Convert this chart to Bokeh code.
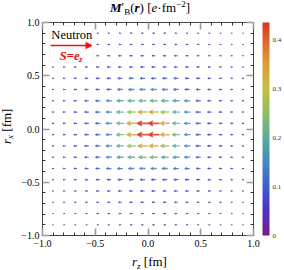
import numpy as np
from bokeh.plotting import figure
from bokeh.layouts import column, row
from bokeh.models import (Range1d, LinearAxis, FixedTicker, CustomJSTickFormatter, Div,
                          ColorBar, LinearColorMapper, Label, BoxAnnotation, Arrow, NormalHead)
from bokeh.embed import file_html
from bokeh.resources import INLINE

# ---------------- data ----------------
# positive grid positions (fm); the full grid is mirrored about 0
grid_pos = [0.053, 0.159, 0.265, 0.371, 0.476, 0.582, 0.688, 0.794, 0.900]
# |M'_B| in e/fm^2 for one quadrant: rows = |r_x|, columns = |r_z| (same order as grid_pos)
mag_quadrant = [
    [0.430, 0.330, 0.220, 0.150, 0.100, 0.070, 0.045, 0.030, 0.020],
    [0.330, 0.265, 0.200, 0.140, 0.100, 0.065, 0.045, 0.030, 0.020],
    [0.220, 0.200, 0.170, 0.130, 0.095, 0.065, 0.045, 0.030, 0.020],
    [0.140, 0.130, 0.115, 0.095, 0.075, 0.055, 0.040, 0.028, 0.018],
    [0.095, 0.090, 0.082, 0.070, 0.058, 0.045, 0.034, 0.025, 0.017],
    [0.065, 0.062, 0.057, 0.050, 0.042, 0.034, 0.026, 0.019, 0.013],
    [0.045, 0.043, 0.040, 0.035, 0.030, 0.025, 0.020, 0.015, 0.011],
    [0.030, 0.029, 0.027, 0.025, 0.022, 0.018, 0.015, 0.012, 0.009],
    [0.020, 0.020, 0.019, 0.017, 0.015, 0.013, 0.011, 0.009, 0.007],
]
direction_z = -1.0          # every arrow points along -r_z
cbar_low, cbar_high = 0.0, 0.435
cbar_ticks = [0.0, 0.1, 0.2, 0.3, 0.4]
major_ticks = [-1.0, -0.5, 0.0, 0.5, 1.0]
minor_ticks = [-0.9, -0.8, -0.7, -0.6, -0.4, -0.3, -0.2, -0.1,
               0.1, 0.2, 0.3, 0.4, 0.6, 0.7, 0.8, 0.9]

# ---------------- palette (Rainbow-like) ----------------
ctrl = [(0.00, (0.47, 0.11, 0.53)), (0.12, (0.30, 0.20, 0.78)), (0.23, (0.24, 0.37, 0.82)),
        (0.35, (0.27, 0.55, 0.76)), (0.46, (0.36, 0.67, 0.60)), (0.58, (0.56, 0.75, 0.38)),
        (0.69, (0.77, 0.75, 0.26)), (0.80, (0.88, 0.62, 0.20)), (0.90, (0.89, 0.43, 0.17)),
        (1.00, (0.86, 0.20, 0.15))]
def rainbow(t):
    t = min(max(t, 0.0), 1.0)
    for (t0, c0), (t1, c1) in zip(ctrl[:-1], ctrl[1:]):
        if t <= t1:
            f = (t - t0) / (t1 - t0)
            c = [a + (b - a) * f for a, b in zip(c0, c1)]
            return "#%02x%02x%02x" % tuple(int(round(255 * v)) for v in c)
    return "#%02x%02x%02x" % tuple(int(round(255 * v)) for v in ctrl[-1][1])
palette = [rainbow(i / 255) for i in range(256)]

# ---------------- layout (page pixels) ----------------
TITLE_H, XLAB_H, YLAB_W = 14, 17, 18
PW, PH = 284 - YLAB_W, 270 - TITLE_H - XLAB_H      # figure canvas 266 x 239
FL, FR, FT, FB = 23, 239, 8, 221                   # frame inside the canvas
PXX = (FR - FL) / 2.0
PXY = (FB - FT) / 2.0

FONT = "Liberation Serif"

p = figure(width=PW, height=PH, output_backend="svg", toolbar_location=None,
           x_range=Range1d(-1, 1), y_range=Range1d(-1, 1),
           x_axis_location=None, y_axis_location=None, margin=(0, 0, 0, 0),
           min_border_left=FL, min_border_right=PW - FR, min_border_top=FT, min_border_bottom=PH - FB)
p.xgrid.grid_line_color = None
p.ygrid.grid_line_color = None
p.outline_line_color = "#444444"
p.outline_line_width = 1
p.background_fill_color = "white"
p.border_fill_color = "white"

ticker = FixedTicker(ticks=major_ticks, minor_ticks=minor_ticks)
fmt = CustomJSTickFormatter(code="return (tick < 0 ? '\u2212' : '') + Math.abs(tick).toFixed(1);")
blank = CustomJSTickFormatter(code="return '';")
spacer = CustomJSTickFormatter(code="return '\\u00a0';")

def style_axis(ax, formatter, font_size="10px", standoff=4):
    ax.ticker = ticker
    ax.formatter = formatter
    ax.axis_line_color = None
    ax.major_tick_in = 7
    ax.major_tick_out = 0
    ax.major_tick_line_color = "#999999"
    ax.major_tick_line_width = 1.6
    ax.minor_tick_in = 3
    ax.minor_tick_out = 0
    ax.minor_tick_line_color = "#333333"
    ax.minor_tick_line_width = 1
    ax.major_label_text_font = FONT
    ax.major_label_text_font_size = font_size
    ax.major_label_text_color = "black"
    ax.major_label_standoff = standoff

ax_b = LinearAxis(); style_axis(ax_b, fmt, "10px", 4); p.add_layout(ax_b, "below")
ax_l = LinearAxis(); style_axis(ax_l, fmt, "10px", 3); p.add_layout(ax_l, "left")
ax_t = LinearAxis(); style_axis(ax_t, blank, "1px", 0); p.add_layout(ax_t, "above")
ax_r = LinearAxis(); style_axis(ax_r, spacer, "1px", 6); p.add_layout(ax_r, "right")

# ---------------- vector field ----------------
coords = [-g for g in reversed(grid_pos)] + list(grid_pos)
def qi(v):
    return grid_pos.index(round(abs(v), 3))

Lmax = 0.112
x0s, x1s, ys, cols, lws = [], [], [], [], []
hxs, hys = [], []
for rx in coords:
    for rz in coords:
        m = mag_quadrant[qi(rx)][qi(rz)]
        t = min(m / cbar_high, 1.0)
        L = Lmax * t ** 0.55
        c = palette[int(round(t * 255))]
        tip = rz + direction_z * L / 2
        tail = rz - direction_z * L / 2
        hl = 0.42 * L
        hw = 0.21 * L * PXX / PXY
        base = tip - direction_z * hl
        x0s.append(base - direction_z * 0.1 * hl); x1s.append(tail); ys.append(rx); cols.append(c)
        lws.append(0.9 + 0.7 * t ** 0.5)
        hxs.append([tip, base, base]); hys.append([rx, rx + hw, rx - hw])

p.segment(x0=x0s, y0=ys, x1=x1s, y1=ys, line_color=cols, line_width=lws, line_alpha=0.85)
p.patches(xs=hxs, ys=hys, fill_color=cols, line_color=cols, line_width=0.6, fill_alpha=0.95, line_alpha=0.9)

# ---------------- colour bar ----------------
mapper = LinearColorMapper(palette=palette, low=cbar_low, high=cbar_high)
cb = ColorBar(color_mapper=mapper, ticker=FixedTicker(ticks=cbar_ticks),
              formatter=CustomJSTickFormatter(code="return tick == 0 ? '0' : tick.toFixed(1);"),
              width=7, padding=0, margin=0, label_standoff=3,
              major_tick_line_color=None, minor_tick_line_color=None, bar_line_color=None,
              border_line_color=None, background_fill_color=None,
              major_label_text_font=FONT, major_label_text_font_size="7px",
              major_label_text_color="#333333")
p.add_layout(cb, "right")

# ---------------- legend box (inside the frame) ----------------
box = BoxAnnotation(left=-0.932, right=-0.519, top=0.972, bottom=0.627,
                    fill_color="white", fill_alpha=1.0, line_color="#c8c8c8", line_width=0.8,
                    border_radius=4)
p.add_layout(box)

def txt(x, y, s, size, style="normal", color="black", align="left", baseline="alphabetic"):
    p.add_layout(Label(x=x, y=y, text=s, text_font=FONT, text_font_size="%gpx" % size,
                       text_font_style=style, text_color=color, text_align=align,
                       text_baseline=baseline))

txt(-0.722, 0.878, "Neutron", 12.5, align="center", baseline="middle")
p.add_layout(Arrow(end=NormalHead(size=6, fill_color="#ee1111", line_color="#ee1111", line_width=1),
                   x_start=-0.923, y_start=0.784, x_end=-0.531, y_end=0.784,
                   line_color="#ee1111", line_width=1.3))
txt(-0.84, 0.69, "S=e", 13, "bold italic", "#ee1111", baseline="middle")
txt(-0.655, 0.66, "z", 9, "bold italic", "#ee1111", baseline="middle")

# ---------------- title and axis titles (HTML text) ----------------
SUB = "font-size:9px;position:relative;top:3px"
SUP = "font-size:9px;position:relative;top:-5px"
base_css = "font-family:'Liberation Serif';color:black;white-space:nowrap;"
NOM = (0, 0, 0, 0)

title_div = Div(width=284, height=TITLE_H, margin=NOM, text=(
    f'<div style="{base_css}font-size:13px;line-height:{TITLE_H}px;padding-left:110px">'
    '<b><i>M</i></b><span style="font-size:12px;position:relative;top:-1px">\u2032</span>'
    f'<span style="{SUB}">B</span>(<b><i>r</i></b>) [<i>e</i>\u00b7fm'
    f'<span style="{SUP}">\u22122</span>]</div>'))

xlab_div = Div(width=284, height=XLAB_H, margin=NOM, text=(
    f'<div style="{base_css}font-size:13px;line-height:{XLAB_H}px;padding-left:132px">'
    f'<i>r</i><span style="{SUB}"><i>z</i></span> [fm]</div>'))

ylab_div = Div(width=YLAB_W, height=PH, margin=NOM, text=(
    f'<div style="{base_css}font-size:13px;line-height:{YLAB_W}px;writing-mode:vertical-rl;'
    f'position:relative;left:-2px;'
    f'transform:rotate(180deg);height:{PH}px;text-align:center;padding-top:14px;box-sizing:border-box">'
    '<i>r</i><span style="font-size:9px;position:relative;left:-3px"><i>x</i></span> [fm]</div>'))

layout = column(title_div, row(ylab_div, p, spacing=0, margin=NOM), xlab_div, spacing=0, margin=NOM)

open("out.html", "w").write(file_html(layout, INLINE))
